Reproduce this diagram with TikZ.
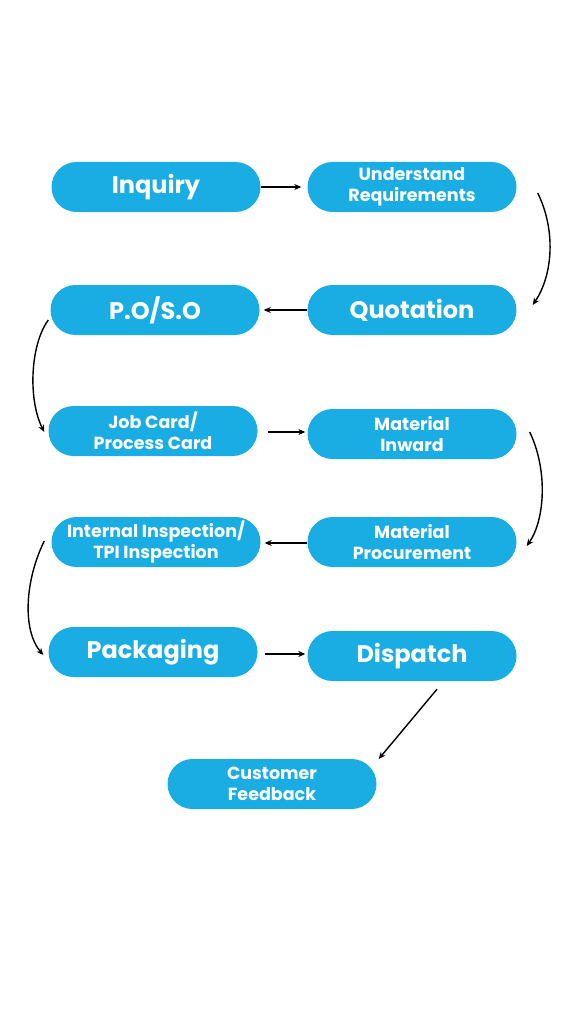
\documentclass[tikz,border=0pt]{standalone}
\usepackage{fontspec}
\setmainfont{Poppins}
\usetikzlibrary{arrows.meta}
\definecolor{pillblue}{RGB}{26,173,228}
\tikzset{
  pill/.style={fill=pillblue, draw=none, rounded corners=25pt, minimum width=209pt, minimum height=50pt, inner sep=0pt, text=white, align=center, font=\bfseries},
  big/.style={font=\bfseries\fontsize{24}{28}\selectfont},
  small/.style={font=\bfseries\fontsize{17.5}{21.5}\selectfont},
  flow/.style={-{Stealth[length=7pt,width=6pt]}, line width=1.4pt, black}
}
\begin{document}
\begin{tikzpicture}[x=1pt,y=-1pt]
\useasboundingbox[fill=white] (0,0) rectangle (576,1024);
\node[pill,big] (inq) at (156,187) {Inquiry};
\node[pill,small] (ur) at (412,187) {Understand\\Requirements};
\node[pill,big] (po) at (155,310) {P.O/S.O};
\node[pill,big] (quot) at (412,310) {Quotation};
\node[pill,small] (job) at (153,431) {Job Card/\\Process Card};
\node[pill,small] (mi) at (412,434) {Material\\Inward};
\node[pill,small] (ii) at (156,542) {Internal Inspection/\\TPI Inspection};
\node[pill,small] (mp) at (412,542) {Material\\Procurement};
\node[pill,big] (pack) at (153,652) {Packaging};
\node[pill,big] (disp) at (412,656) {Dispatch};
\node[pill,small] (cf) at (272,784) {Customer\\Feedback};

\draw[flow] (inq.east) -- ([xshift=-6pt]ur.west);
\draw[flow] ([xshift=21pt,yshift=-6pt]ur.east) .. controls (556,230) and (553,275) .. ([xshift=16pt,yshift=5pt]quot.east);
\draw[flow] (quot.west) -- ([xshift=4pt]po.east);
\draw[flow] ([xshift=-2pt,yshift=-10pt]po.west) .. controls (30,345) and (28,400) .. ([xshift=-4pt,yshift=-1pt]job.west);
\draw[flow] ([xshift=10pt,yshift=-1pt]job.east) -- ([xshift=-2pt,yshift=2pt]mi.west);
\draw[flow] ([xshift=13pt,yshift=2pt]mi.east) .. controls (548,470) and (545,520) .. ([xshift=10pt,yshift=-4pt]mp.east);
\draw[flow] ([yshift=-1pt]mp.west) -- ([xshift=4pt,yshift=-1pt]ii.east);
\draw[flow] ([xshift=-7pt,yshift=1pt]ii.west) .. controls (25,580) and (22,630) .. ([xshift=-5pt,yshift=-3pt]pack.west);
\draw[flow] ([xshift=7pt,yshift=-2pt]pack.east) -- ([xshift=-2pt,yshift=2pt]disp.west);
\draw[flow] ([xshift=25pt,yshift=-8pt]disp.south) -- ([xshift=2pt,yshift=25pt]cf.east);
\end{tikzpicture}
\end{document}
